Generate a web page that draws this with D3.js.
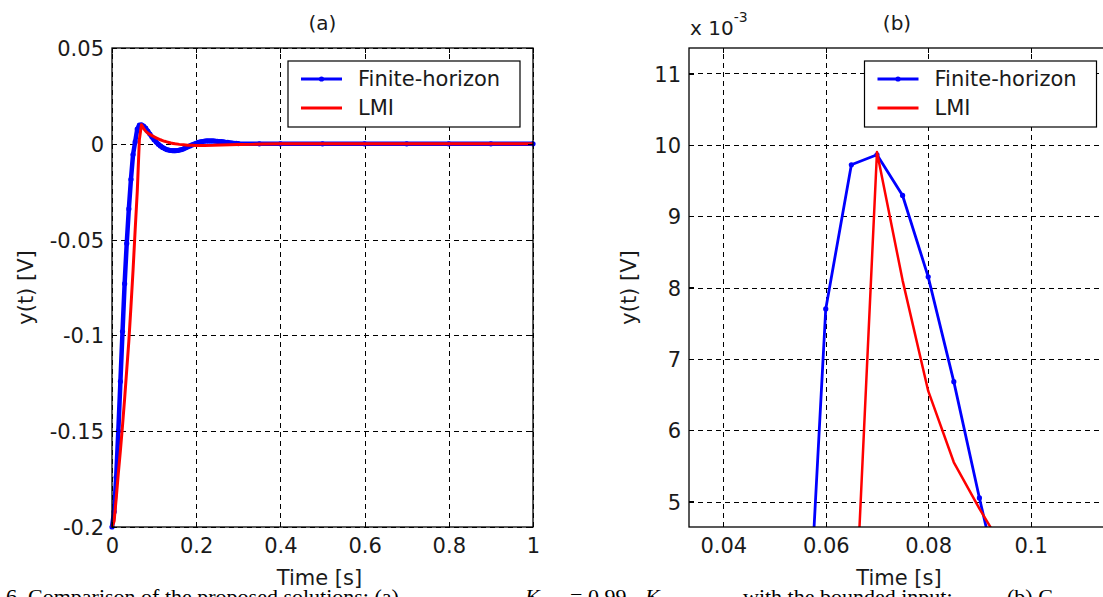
<!DOCTYPE html>
<html>
<head>
<meta charset="utf-8">
<script src="https://cdn.jsdelivr.net/npm/d3@7"></script>
<style>
  body { margin: 0; background: #fff; }
</style>
</head>
<body>
<div class="canva"></div>
<script>
// sample times [s] and outputs y(t) [V]
const fhTime = [0, 0.005, 0.01, 0.015, 0.02, 0.025, 0.03, 0.035, 0.04, 0.045, 0.05, 0.055,
  0.06, 0.065, 0.07, 0.075, 0.08, 0.085, 0.09, 0.095, 0.1, 0.105, 0.11, 0.115, 0.12, 0.125,
  0.13, 0.135, 0.14, 0.145, 0.15, 0.155, 0.16, 0.165, 0.17, 0.175, 0.18, 0.185, 0.19, 0.195,
  0.2, 0.205, 0.21, 0.215, 0.22, 0.225, 0.23, 0.235, 0.24, 0.245, 0.25, 0.255, 0.26, 0.265,
  0.27, 0.275, 0.28, 0.285, 0.29, 0.295, 0.3, 0.35, 0.4, 0.5, 0.6, 0.7, 0.8, 0.9, 1];
const fhY = [-0.2, -0.192, -0.174, -0.15, -0.124, -0.098, -0.073, -0.052, -0.034, -0.0186, -0.0056, 0.001,
  0.0077, 0.00972, 0.00986, 0.00929, 0.00815, 0.00668, 0.00505, 0.0035, 0.0021, 0.0009, -0.0002, -0.0011, -0.0019, -0.0025,
  -0.003, -0.0033, -0.0035, -0.0036, -0.0036, -0.0035, -0.0033, -0.003, -0.0026, -0.0021, -0.0016, -0.0011, -0.0006, -0.0001,
  0.0003, 0.0007, 0.001, 0.0012, 0.0014, 0.0015, 0.0015, 0.0015, 0.0015, 0.0014, 0.0013, 0.0012, 0.0011, 0.001,
  0.0008, 0.0007, 0.0005, 0.0004, 0.0003, 0.0002, 0.0001, 0, 0, 0, 0, 0, 0, 0, 0];

const lmiTime = [0, 0.005, 0.01, 0.015, 0.02, 0.025, 0.03, 0.035, 0.04, 0.045, 0.05, 0.055,
  0.06, 0.065, 0.07, 0.075, 0.08, 0.085, 0.09, 0.095, 0.1, 0.105, 0.11, 0.115, 0.12, 0.125,
  0.13, 0.135, 0.14, 0.145, 0.15, 0.16, 0.17, 0.18, 0.19, 0.2, 0.22, 0.24, 0.26, 0.28, 0.3,
  0.33, 0.36, 0.4, 1];
const lmiY = [-0.2, -0.197, -0.185, -0.172, -0.16, -0.147, -0.133, -0.118, -0.103, -0.085, -0.066, -0.045,
  -0.025, 0.0022, 0.0099, 0.0081, 0.00655, 0.00555, 0.0049, 0.0043, 0.0037, 0.0031, 0.0026, 0.0021, 0.0017, 0.0013,
  0.001, 0.0007, 0.0004, 0.0002, 0, -0.0003, -0.0005, -0.0007, -0.0008, -0.0009, -0.0009, -0.0008, -0.0006, -0.0005, -0.0004,
  -0.0003, -0.0001, 0, 0];

const seriesNames = ["Finite-horizon", "LMI"];
const seriesColors = ["#0000ff", "#ff0000"];

const xTicksA = [0, 0.2, 0.4, 0.6, 0.8, 1];
const yTicksA = [0.05, 0, -0.05, -0.1, -0.15, -0.2];
const xTicksB = [0.04, 0.06, 0.08, 0.1];
const yTicksB = [0.005, 0.006, 0.007, 0.008, 0.009, 0.010, 0.011];

const fh = fhTime.map((t, i) => [t, fhY[i]]);
const lmi = lmiTime.map((t, i) => [t, lmiY[i]]);

const W = 1103, H = 597;
const FONT = "'DejaVu Sans', sans-serif";

const svg = d3.select(".canva").append("svg")
              .attr("width", W)
              .attr("height", H);

const panels = [
  { id: "a", title: "(a)", left: 112, right: 533, top: 48, bottom: 527,
    xDomain: [0, 1], yDomain: [-0.2, 0.05], xTicks: xTicksA, yTicks: yTicksA,
    xFmt: d => String(d), yFmt: d => String(d),
    ylabX: 33, blueW: 4.5, redW: 3, legendX: 288, pad: 4 },
  { id: "b", title: "(b)", left: 689, right: 1109, top: 48, bottom: 527,
    xDomain: [0.0333, 0.1153], yDomain: [0.004643, 0.011357], xTicks: xTicksB, yTicks: yTicksB,
    xFmt: d => String(d), yFmt: d => String(Math.round(d * 1000)),
    ylabX: 636, blueW: 2.8, redW: 2.5, legendX: 864.5, pad: 0, exponent: true }
];

panels.forEach(p => {
  const x = d3.scaleLinear().domain(p.xDomain).range([p.left, p.right]);
  const y = d3.scaleLinear().domain(p.yDomain).range([p.bottom, p.top]);
  const g = svg.append("g");
  const h = p.bottom - p.top, w = p.right - p.left;

  // white plot area
  g.append("rect")
    .attr("x", p.left).attr("y", p.top)
    .attr("width", w).attr("height", h)
    .attr("fill", "#fff");

  // dashed grid
  const gx = g.append("g").attr("transform", `translate(0,${p.bottom})`)
    .call(d3.axisBottom(x).tickValues(p.xTicks).tickSize(-h).tickFormat(""));
  const gy = g.append("g").attr("transform", `translate(${p.left},0)`)
    .call(d3.axisLeft(y).tickValues(p.yTicks).tickSize(-w).tickFormat(""));
  [gx, gy].forEach(a => {
    a.select(".domain").remove();
    a.selectAll("line").attr("stroke", "#000").attr("stroke-width", 1)
      .attr("stroke-dasharray", "5,4")
      .attr("shape-rendering", "crispEdges");
  });

  // data, clipped to the axes box
  const clipId = "clip-" + p.id;
  svg.append("clipPath").attr("id", clipId).append("rect")
    .attr("x", p.left - p.pad).attr("y", p.top - p.pad)
    .attr("width", w + 2 * p.pad).attr("height", h + 2 * p.pad);
  const dg = g.append("g").attr("clip-path", `url(#${clipId})`);
  const line = d3.line().x(d => x(d[0])).y(d => y(d[1]));

  dg.append("path").datum(fh)
    .attr("d", line)
    .attr("fill", "none")
    .attr("stroke", seriesColors[0])
    .attr("stroke-width", p.blueW)
    .attr("stroke-linejoin", "round");
  dg.selectAll(".mk").data(fh).enter().append("circle")
    .attr("cx", d => x(d[0]))
    .attr("cy", d => y(d[1]))
    .attr("r", 2.6)
    .attr("fill", seriesColors[0]);
  dg.append("path").datum(lmi)
    .attr("d", line)
    .attr("fill", "none")
    .attr("stroke", seriesColors[1])
    .attr("stroke-width", p.redW)
    .attr("stroke-linejoin", "round");

  // box and inward ticks on all four sides
  g.append("rect")
    .attr("x", p.left).attr("y", p.top)
    .attr("width", w).attr("height", h)
    .attr("fill", "none").attr("stroke", "#000").attr("stroke-width", 1.3);

  const axB = g.append("g").attr("transform", `translate(0,${p.bottom})`)
    .call(d3.axisBottom(x).tickValues(p.xTicks).tickSize(-5).tickPadding(11.5).tickFormat(p.xFmt));
  const axT = g.append("g").attr("transform", `translate(0,${p.top})`)
    .call(d3.axisTop(x).tickValues(p.xTicks).tickSize(-5).tickFormat(""));
  const axL = g.append("g").attr("transform", `translate(${p.left},0)`)
    .call(d3.axisLeft(y).tickValues(p.yTicks).tickSize(-5).tickPadding(8).tickFormat(p.yFmt));
  const axR = g.append("g").attr("transform", `translate(${p.right},0)`)
    .call(d3.axisRight(y).tickValues(p.yTicks).tickSize(-5).tickFormat(""));
  [axB, axT, axL, axR].forEach(a => {
    a.select(".domain").remove();
    a.selectAll("line").attr("stroke", "#000").attr("stroke-width", 1.2)
      .attr("shape-rendering", "crispEdges");
    a.selectAll("text")
      .attr("font-family", FONT)
      .attr("font-size", 21)
      .attr("fill", "#1a1a1a");
  });
  axL.selectAll("text").attr("dy", "0.36em");

  // titles and axis labels
  const cx = (p.left + p.right) / 2;
  svg.append("text")
    .attr("x", cx - (p.id === "b" ? 2 : 0)).attr("y", 30)
    .attr("text-anchor", "middle")
    .attr("font-family", FONT).attr("font-size", 20).attr("fill", "#1a1a1a")
    .text(p.title);
  svg.append("text")
    .attr("x", p.id === "b" ? 899 : cx - 3).attr("y", 585)
    .attr("text-anchor", "middle")
    .attr("font-family", FONT).attr("font-size", 21).attr("fill", "#1a1a1a")
    .text("Time [s]");
  svg.append("text")
    .attr("transform", `translate(${p.ylabX},${(p.top + p.bottom) / 2}) rotate(-90)`)
    .attr("text-anchor", "middle")
    .attr("font-family", FONT).attr("font-size", 21).attr("fill", "#1a1a1a")
    .text("y(t) [V]");

  if (p.exponent) {
    const ex = svg.append("text")
      .attr("x", 690).attr("y", 35)
      .attr("font-family", FONT).attr("font-size", 20).attr("fill", "#1a1a1a");
    ex.append("tspan").text("x 10");
    ex.append("tspan").attr("dy", -13).attr("font-size", 14).text("-3");
  }

  // legend
  const lg = svg.append("g").attr("transform", `translate(${p.legendX},61)`);
  lg.append("rect")
    .attr("width", 232).attr("height", 66)
    .attr("fill", "#fff").attr("stroke", "#000").attr("stroke-width", 1.2);
  seriesNames.forEach((name, i) => {
    const ly = 18 + i * 29;
    lg.append("line")
      .attr("x1", 13).attr("x2", 54).attr("y1", ly).attr("y2", ly)
      .attr("stroke", seriesColors[i]).attr("stroke-width", 3);
    if (i === 0) {
      lg.append("circle").attr("cx", 33.5).attr("cy", ly).attr("r", 2.6)
        .attr("fill", seriesColors[i]);
    }
    lg.append("text")
      .attr("x", 70).attr("y", ly + 7)
      .attr("font-family", FONT).attr("font-size", 21).attr("fill", "#1a1a1a")
      .text(name);
  });
});

// figure caption, cut off by the bottom edge as in the source
const cap = svg.append("text")
  .attr("y", 604)
  .attr("font-family", "'Liberation Serif', serif")
  .attr("font-size", 22)
  .attr("fill", "#000");
cap.append("tspan").attr("x", 6).text("6. Comparison of the proposed solutions: (a)");
cap.append("tspan").attr("x", 525).attr("font-style", "italic").text("K");
cap.append("tspan").attr("x", 570).text("= 0.99");
cap.append("tspan").attr("x", 645).attr("font-style", "italic").text("K");
cap.append("tspan").attr("x", 743).text("with the bounded input;");
cap.append("tspan").attr("x", 1007).text("(b) C");
</script>
</body>
</html>
